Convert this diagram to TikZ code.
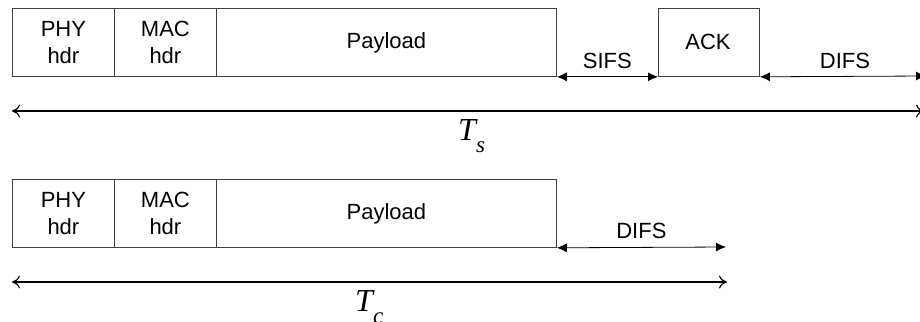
\documentclass[tikz,border=0pt]{standalone}
\usepackage{fontspec}
\setmainfont{Liberation Sans}
\newfontfamily\tfont{Liberation Serif}
\usetikzlibrary{arrows.meta}

\tikzset{
  frame/.style={draw=black!75, line width=0.8pt, inner sep=0pt, anchor=north west,
    minimum height=68pt, align=center, font=\fontsize{22}{27}\selectfont},
  gap/.style={line width=0.8pt, {Latex[length=10pt,width=9pt]}-{Latex[length=10pt,width=9pt]}},
  span/.style={line width=1.2pt, {To[length=8pt,width=13pt]}-{To[length=8pt,width=13pt]}},
  lbl/.style={font=\fontsize{22}{27}\selectfont, inner sep=0pt},
  tlbl/.style={font=\tfont\itshape\fontsize{32}{32}\selectfont, inner sep=0pt, anchor=base west}
}

\begin{document}
\begin{tikzpicture}[x=1pt, y=-1pt]
  \useasboundingbox (0,0) rectangle (920,321);

  % successful transmission
  \node[frame, minimum width=102pt] (phys) at (12,8) {PHY\\hdr};
  \node[frame, minimum width=102pt] (macs) at (114,8) {MAC\\hdr};
  \node[frame, minimum width=340pt] (pays) at (216,8) {Payload};
  \node[frame, minimum width=101pt] (ack) at (658,8) {};
  \node[lbl] at (708,42) {ACK};
  \coordinate (difsend) at (926,76);
  \draw[gap] (pays.south east) -- node[lbl, above=8pt] {SIFS} (ack.south west);
  \draw[gap] (ack.south east) -- (difsend);
  \node[lbl] (difs) at (845,61) {DIFS};
  \coordinate (tsl) at (12,111);
  \coordinate (tsr) at (924,111);
  \draw[span] (tsl) -- (tsr);
  \node[tlbl] (ts) at (458,140) {T\raisebox{-12pt}{\fontsize{23}{23}\selectfont s}};

  % collision
  \node[frame, minimum width=102pt] (phyc) at (12,179) {PHY\\hdr};
  \node[frame, minimum width=102pt] (macc) at (114,179) {MAC\\hdr};
  \node[frame, minimum width=340pt] (payc) at (216,179) {Payload};
  \coordinate (difcend) at (726,247);
  \draw[gap] (payc.south east) -- node[lbl, above=8pt] {DIFS} (difcend);
  \coordinate (tcl) at (12,282);
  \coordinate (tcr) at (727,282);
  \draw[span] (tcl) -- (tcr);
  \node[tlbl] (tc) at (355,311) {T\raisebox{-12pt}{\fontsize{23}{23}\selectfont c}};
\end{tikzpicture}
\end{document}
